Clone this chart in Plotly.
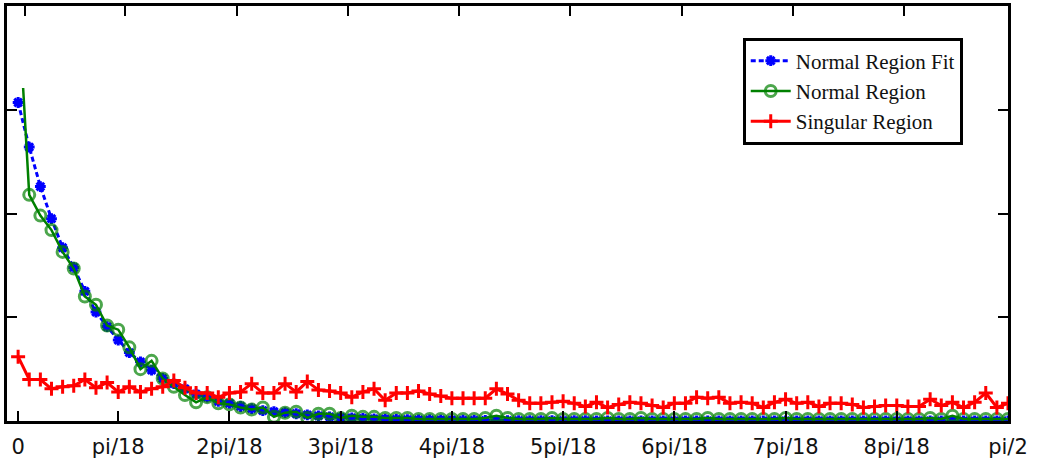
import plotly.graph_objects as go

# ---------------- data ----------------
x_idx = list(range(1, 91))
tick_vals = [1, 10, 20, 30, 40, 50, 60, 70, 80, 90]
tick_text = ["0", "pi/18", "2pi/18", "3pi/18", "4pi/18", "5pi/18",
             "6pi/18", "7pi/18", "8pi/18", "pi/2"]

fit_vals = [3.07, 2.64, 2.26, 1.95, 1.67, 1.48, 1.25, 1.05, 0.91, 0.78,
            0.66, 0.57, 0.49, 0.41, 0.36, 0.31, 0.26, 0.23, 0.19, 0.17,
            0.14, 0.12, 0.10, 0.09, 0.08, 0.07, 0.06, 0.05, 0.04, 0.035,
            0.03, 0.025, 0.02, 0.018, 0.015, 0.013, 0.011, 0.010, 0.009, 0.008,
            0.007, 0.006, 0.005, 0.005, 0.004, 0.004, 0.004, 0.003, 0.003, 0.003,
            0.003, 0.003, 0.002, 0.002, 0.002, 0.002, 0.002, 0.002, 0.002, 0.002,
            0.002, 0.001, 0.001, 0.001, 0.001, 0.001, 0.001, 0.001, 0.001, 0.001,
            0.001, 0.001, 0.001, 0.001, 0.001, 0.001, 0.001, 0.001, 0.001, 0.001,
            0.001, 0.001, 0.001, 0.001, 0.001, 0.001, 0.001, 0.001, 0.001, 0.001]

normal_x = [1.45] + list(range(2, 91))
normal_vals = [3.21, 2.18, 1.98, 1.84, 1.63, 1.47, 1.20, 1.12, 0.92, 0.88,
               0.71, 0.50, 0.58, 0.41, 0.33, 0.25, 0.18, 0.23, 0.17, 0.16,
               0.13, 0.11, 0.13, 0.04, 0.08, 0.09, 0.03, 0.07, 0.07, 0.03,
               0.05, 0.04, 0.04, 0.03, 0.03, 0.03, 0.02, 0.02, 0.02, 0.02,
               0.02, 0.02, 0.03, 0.05, 0.03, 0.02, 0.02, 0.02, 0.03, 0.02,
               0.02, 0.02, 0.02, 0.03, 0.02, 0.02, 0.03, 0.02, 0.02, 0.02,
               0.02, 0.02, 0.03, 0.02, 0.02, 0.02, 0.02, 0.02, 0.02, 0.03,
               0.02, 0.02, 0.02, 0.02, 0.02, 0.02, 0.02, 0.02, 0.02, 0.02,
               0.02, 0.02, 0.03, 0.02, 0.05, 0.02, 0.02, 0.02, 0.02, 0.02]

singular_vals = [0.62, 0.40, 0.40, 0.31, 0.33, 0.34, 0.40, 0.32, 0.37, 0.28,
                 0.33, 0.28, 0.31, 0.33, 0.39, 0.32, 0.27, 0.27, 0.23, 0.27,
                 0.28, 0.36, 0.27, 0.27, 0.36, 0.28, 0.38, 0.30, 0.29, 0.27,
                 0.23, 0.28, 0.31, 0.20, 0.27, 0.27, 0.29, 0.26, 0.24, 0.22,
                 0.22, 0.22, 0.22, 0.31, 0.26, 0.20, 0.17, 0.17, 0.18, 0.19,
                 0.17, 0.14, 0.18, 0.13, 0.16, 0.18, 0.17, 0.15, 0.13, 0.17,
                 0.17, 0.23, 0.22, 0.23, 0.17, 0.18, 0.17, 0.13, 0.18, 0.21,
                 0.17, 0.18, 0.14, 0.17, 0.17, 0.16, 0.13, 0.14, 0.15, 0.15,
                 0.14, 0.14, 0.21, 0.15, 0.18, 0.13, 0.18, 0.27, 0.13, 0.17]

# ---------------- figure ----------------
fig = go.Figure()

fig.add_trace(go.Scatter(
    x=x_idx, y=fit_vals, mode="lines+markers", name="Normal Region Fit",
    line=dict(color="#0000ff", width=3, dash="5px,3px"),
    marker=dict(symbol="asterisk-open", size=9, color="#0000ff",
                line=dict(color="#0000ff", width=3)),
))

normal_sizes = [0] + [11] * (len(normal_x) - 1)
fig.add_trace(go.Scatter(
    x=normal_x, y=normal_vals, mode="lines+markers", name="Normal Region",
    line=dict(color="#008000", width=2.5),
    marker=dict(symbol="circle-open", size=normal_sizes, color="#008000",
                line=dict(color="#008000", width=3)),
))

fig.add_trace(go.Scatter(
    x=x_idx, y=singular_vals, mode="lines+markers", name="Singular Region",
    line=dict(color="#ff0000", width=3),
    marker=dict(symbol="cross-thin-open", size=10, color="#ff0000",
                line=dict(color="#ff0000", width=3)),
))

# invisible trace to host the top axis
fig.add_trace(go.Scatter(x=[0, 90], y=[0, 0], xaxis="x2", mode="lines",
                         line=dict(width=0), showlegend=False, hoverinfo="skip"))

fig.update_layout(
    width=1037, height=461,
    margin=dict(l=7, r=29, t=6, b=40),
    paper_bgcolor="white", plot_bgcolor="white",
    showlegend=True,
    legend=dict(x=0.735, y=0.924, xanchor="left", yanchor="top",
                bgcolor="white", bordercolor="black", borderwidth=3,
                font=dict(family="Liberation Serif", size=21, color="#111111"),
                itemwidth=40, tracegroupgap=0),
    xaxis=dict(range=[0, 90], tickmode="array", tickvals=tick_vals,
               ticktext=tick_text, ticks="inside", ticklen=10, tickwidth=2,
               tickcolor="black", showline=True, linecolor="black",
               linewidth=3, mirror=False, showgrid=False, zeroline=False,
               tickfont=dict(family="DejaVu Sans", size=21, color="#111111"),
               ticklabelstandoff=5, automargin=False),
    xaxis2=dict(range=[0, 90], overlaying="x", side="top", anchor="y",
                tickmode="array", tickvals=[v + 0.65 for v in tick_vals],
                showticklabels=False, ticks="inside", ticklen=10, tickwidth=2,
                tickcolor="black", showline=True, linecolor="black",
                linewidth=3, showgrid=False, zeroline=False, automargin=False),
    yaxis=dict(range=[0, 4], tickmode="array", tickvals=[0, 1, 2, 3],
               showticklabels=False, ticks="inside", ticklen=10, tickwidth=2,
               tickcolor="black", showline=True, linecolor="black",
               linewidth=3, mirror="ticks", showgrid=False, zeroline=False,
               automargin=False),
)

fig.write_html("out.html", config={"displayModeBar": False},
               post_script="document.body.style.margin='0';document.body.style.padding='0';")
